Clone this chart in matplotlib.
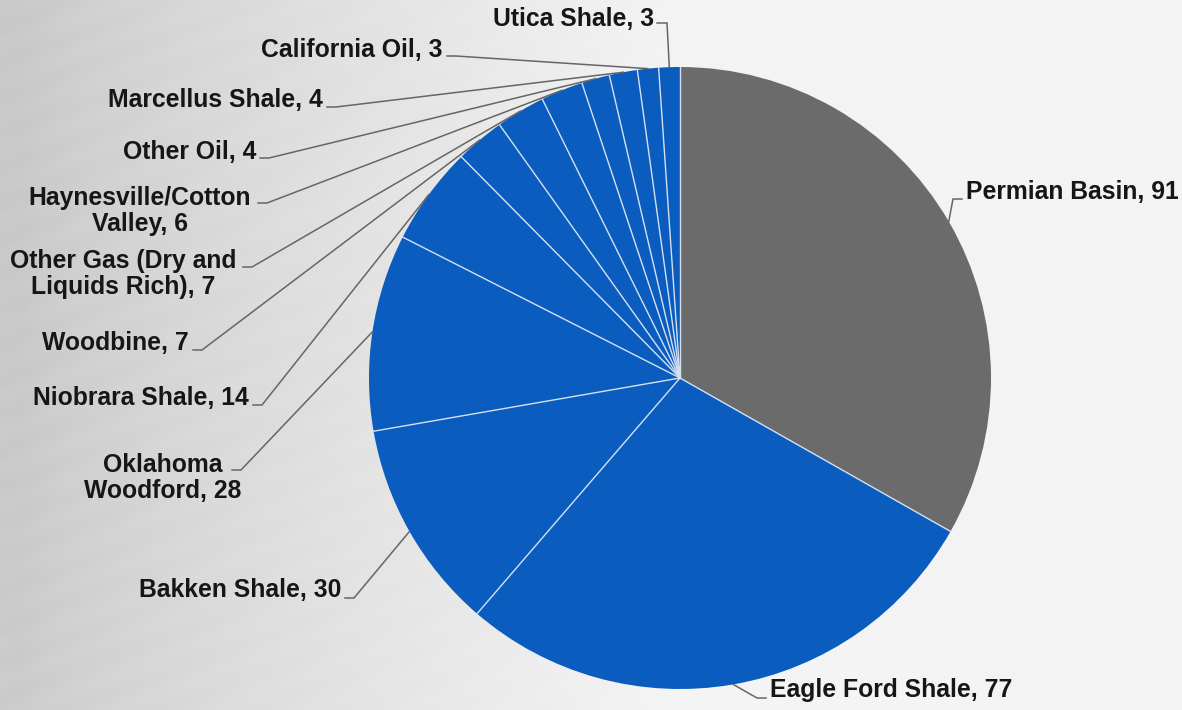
import numpy as np
import matplotlib
matplotlib.use("Agg")
import matplotlib.pyplot as plt

plt.rcParams['font.family'] = ['Liberation Sans', 'DejaVu Sans']

# rig counts by play, clockwise from 12 o'clock
plays = ['Permian Basin', 'Eagle Ford Shale', 'Bakken Shale', 'Oklahoma\nWoodford',
         'Niobrara Shale', 'Woodbine', 'Other Gas (Dry and\nLiquids Rich)',
         'Haynesville/Cotton\nValley', 'Other Oil', 'Marcellus Shale',
         'California Oil', 'Utica Shale']
rigs = [91, 77, 30, 28, 14, 7, 7, 6, 4, 4, 3, 3]

W, H = 1182, 710
CX, CY, R = 680, 378, 311          # pie centre and radius in pixels

# label layout in pixels: (x, y, ha) and where the leader leaves the text
label_xy = [(966, 192, 'left'), (770, 690, 'left'), (341, 590, 'right'),
            (163, 478, 'center'), (249, 398, 'right'), (189, 343, 'right'),
            (123, 274, 'center'), (140, 211, 'center'), (256, 152, 'right'),
            (323, 100, 'right'), (443, 50, 'right'), (654, 19, 'right')]
leader_from = [(962, 199, -1), (766, 698, -1), (345, 598, 1), (232, 470, 1),
               (253, 405, 1), (193, 350, 1), (243, 267, 1), (258, 203, 1),
               (260, 158, 1), (327, 107, 1), (447, 56, 1), (657, 23, 1)]


def px(x, y):
    """pixel position -> data coordinates (pie of radius 1 at origin)"""
    return (x - CX) / R, (CY - y) / R


fig = plt.figure(figsize=(W / 100, H / 100), dpi=100)

# brushed-metal style backdrop: darker grey at the left, almost white to the right
bg = fig.add_axes([0, 0, 1, 1])
gx, gy = np.meshgrid(np.linspace(0, 1, 600), np.linspace(0, 1, 360))
shade = 0.79 + 0.165 * np.clip((gx - 0.02) / 0.55, 0, 1) ** 0.8
shade += 0.02 * np.clip(gy - 0.5, 0, 1) * (1 - gx)
streak = 0.006 * np.sin(140 * (gx * 0.55 + gy * 0.9)) * (1 - gx) ** 2
shade = np.clip(shade + streak, 0, 1)
bg.imshow(np.dstack([shade, shade, shade]), extent=[0, 1, 0, 1],
          aspect='auto', interpolation='bilinear')
bg.axis('off')

ax = fig.add_axes([0, 0, 1, 1])
ax.patch.set_alpha(0)
x0, y0 = px(0, H)
x1, y1 = px(W, 0)

colors = ['#6b6b6b'] + ['#0a5cbf'] * (len(rigs) - 1)
wedges, _ = ax.pie(rigs, colors=colors, startangle=90, counterclock=False,
                   radius=1, center=(0, 0), frame=True,
                   wedgeprops=dict(linewidth=0))
ax.set_xlim(x0, x1)
ax.set_ylim(y0, y1)
ax.set_aspect('equal')
ax.axis('off')

# thin light separators between slices
for w in wedges:
    a = np.deg2rad(w.theta1)
    ax.plot([0, np.cos(a)], [0, np.sin(a)], color='#d4e0f2', lw=1.0)

for w, name, n, (tx, ty, ha), (lx, ly, d) in zip(wedges, plays, rigs,
                                                  label_xy, leader_from):
    mid = np.deg2rad((w.theta1 + w.theta2) / 2)
    ex, ey = np.cos(mid), np.sin(mid)
    sx, sy = px(lx, ly)
    kx, ky = px(lx + 9 * d, ly)
    if name == 'Utica Shale':
        kx, ky = px(lx + 10, ly)
    ax.plot([sx, kx, ex], [sy, ky, ey], color='#666666', lw=1.1,
            solid_joinstyle='miter')
    lx_, ly_ = px(tx, ty)
    ax.text(lx_, ly_, f'{name}, {n}', ha=ha, va='center', fontsize=17.8,
            fontweight='bold', color='#161616', linespacing=1.1,
            multialignment='center')

fig.savefig('out.png', dpi=100)
